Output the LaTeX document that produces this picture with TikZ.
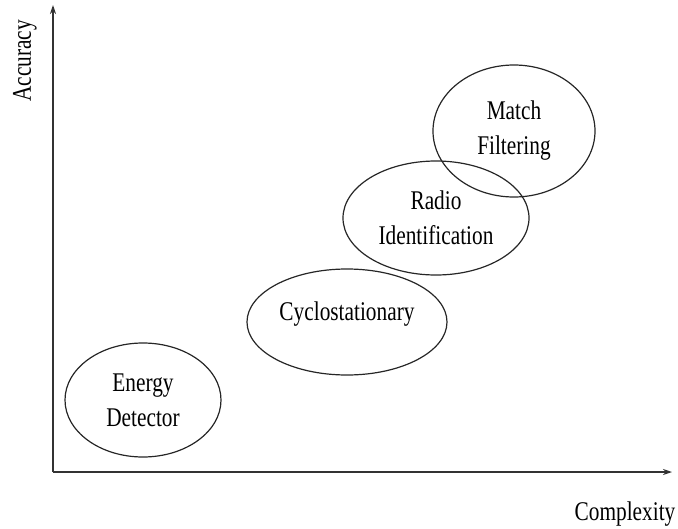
\documentclass[tikz,border=0pt]{standalone}
\usepackage{fontspec}
\setmainfont[FakeStretch=0.79]{Liberation Serif}
\usepackage{tikz}
\usetikzlibrary{
    arrows.meta,
    positioning,
    shapes.geometric
}

\begin{document}
\begin{tikzpicture}[
x=1pt, y=-1pt,
method/.style={
draw=black!85,
ellipse,
line width=1.2pt,
inner sep=0pt,
align=center,
font=\fontsize{27}{35}\selectfont
},
axis/.style={
draw=black!80,
line width=1.2pt,
-{Stealth[length=9pt,width=6pt]}
},
axislabel/.style={
font=\fontsize{27}{32}\selectfont
}
]

\useasboundingbox (0,0) rectangle (678,528);

\coordinate (origin) at (53,472);
\coordinate (ytip) at (53,5);
\coordinate (xtip) at (672,472);

\draw[axis] (origin) -- (ytip);
\draw[axis] (origin) -- (xtip);

\node[axislabel, rotate=90] (accuracy) at (25,61) {Accuracy};
\node[axislabel] (complexity) at (625,514) {Complexity};

\node[method, minimum width=156pt, minimum height=114pt]
(energy) at (143,400) {Energy\\Detector};

\node[method, minimum width=200pt, minimum height=106pt,
text height=19pt, text depth=22pt]
(cyclo) at (347,322) {Cyclostationary};

\node[method, minimum width=186pt, minimum height=114pt]
(radio) at (436,218) {Radio\\Identification};

\node[method, minimum width=162pt, minimum height=132pt]
(match) at (514,131) {Match\\Filtering};

\end{tikzpicture}
\end{document}
